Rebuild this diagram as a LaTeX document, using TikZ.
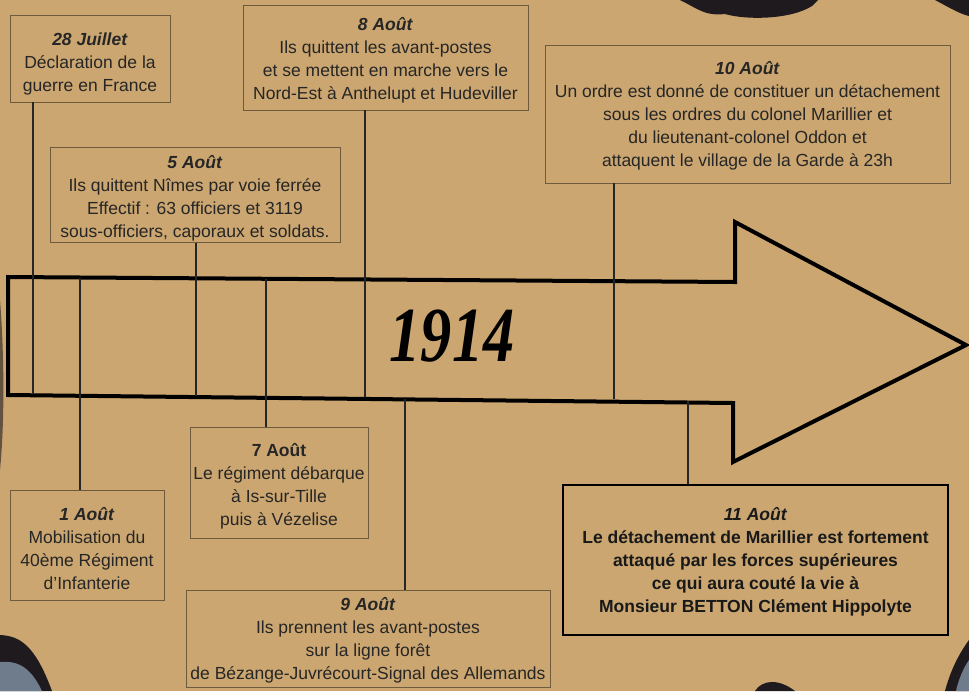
\documentclass[tikz,border=0pt]{standalone}
\usepackage{fontspec}
\setmainfont{Liberation Sans}
\newfontfamily\handfont{Liberation Serif}
\newcommand{\toprule}[1][19pt]{\rule{0pt}{#1}}
\begin{document}
\begin{tikzpicture}[x=1pt,y=-1pt,
  evbox/.style={draw=boxline, line width=0.8pt, align=center, inner sep=2pt,
    font=\fontsize{17.5}{23}\selectfont, text=black!85},
  bigbox/.style={draw=black, line width=2.6pt, align=center, inner sep=2pt,
    font=\bfseries\fontsize{17.5}{23}\selectfont, text=black!90},
  tick/.style={draw=black!85, line width=1.2pt},
  arrowline/.style={draw=black, line width=4pt, line join=miter}]
\definecolor{paper}{HTML}{CBA670}
\definecolor{boxline}{HTML}{6E5A3C}
\definecolor{burnt}{HTML}{1E1A1E}
\definecolor{slate}{HTML}{6F7C8C}
\useasboundingbox (0,0) rectangle (969,691);
\fill[paper] (0,0) rectangle (969,691);
% burnt edges
\fill[burnt] (680,0) .. controls (700,10) and (705,16) .. (725,14)
  .. controls (745,20) and (790,20) .. (812,6) -- (818,0) -- cycle;
\fill[burnt] (935,0) .. controls (950,8) and (960,14) .. (969,16) -- (969,0) -- cycle;
\fill[burnt] (0,635) .. controls (20,636) and (35,645) .. (52,691) -- (0,691) -- cycle;
\fill[slate] (0,662) .. controls (20,660) and (32,670) .. (42,691) -- (0,691) -- cycle;
\fill[burnt] (755,691) .. controls (762,680) and (778,678) .. (795,691) -- cycle;
\fill[burnt] (969,640) .. controls (958,655) and (950,672) .. (945,691) -- (969,691) -- cycle;
\fill[slate] (969,660) .. controls (962,670) and (958,682) .. (956,691) -- (969,691) -- cycle;
\fill[burnt!60!paper] (0,300) .. controls (4,350) and (5,420) .. (0,470) -- cycle;

% arrow
\draw[arrowline] (8,277) -- (735,282) -- (735,222) -- (966,345) -- (733,462)
  -- (733,403) -- (8,395) -- cycle;
\node[font=\handfont\itshape\bfseries\fontsize{78}{78}\selectfont, xscale=0.8] (year) at (452,336) {1914};

% coordinates on the arrow
\coordinate (c28) at (33,394);
\coordinate (c1) at (80,278);
\coordinate (c5) at (196,396);
\coordinate (c7) at (266,279);
\coordinate (c8) at (365,397);
\coordinate (c9) at (405,399);
\coordinate (c10) at (614,399);
\coordinate (c11) at (688,401);

% boxes
\node[evbox, minimum width=160pt, minimum height=87pt] (j28) at (90,58.5)
  {\toprule[23pt]\textbf{\textit{28 Juillet}}\\Déclaration de la\\guerre en France};
\node[evbox, minimum width=285pt, minimum height=105pt] (a8) at (385.5,57.5)
  {\toprule\textbf{\textit{8 Août}}\\Ils quittent les avant-postes\\et se mettent en marche vers le\\Nord-Est à Anthelupt et Hudeviller};
\node[evbox, minimum width=405pt, minimum height=138pt] (a10) at (747.5,114)
  {\toprule[16pt]\textbf{\textit{10 Août}}\\Un ordre est donné de constituer un détachement\\sous les ordres du colonel Marillier et\\du lieutenant-colonel Oddon et\\attaquent le village de la Garde à 23h};
\node[evbox, minimum width=290pt, minimum height=94pt] (a5) at (195,195)
  {\toprule\textbf{\textit{5 Août}}\\Ils quittent Nîmes par voie ferrée\\Effectif : 63 officiers et 3119\\sous-officiers, caporaux et soldats.};
\node[evbox, minimum width=178pt, minimum height=111pt] (a7) at (279,482.5)
  {\toprule[21pt]\textbf{7 Août}\\Le régiment débarque\\à Is-sur-Tille\\puis à Vézelise};
\node[evbox, minimum width=154pt, minimum height=110pt] (a1) at (87,545)
  {\toprule[20pt]\textbf{\textit{1 Août}}\\Mobilisation du\\40ème Régiment\\d’Infanterie};
\node[evbox, minimum width=364pt, minimum height=97pt] (a9) at (368,638.5)
  {\toprule[16pt]\textbf{\textit{9 Août}}\\Ils prennent les avant-postes\\sur la ligne forêt\\de Bézange-Juvrécourt-Signal des Allemands};
\node[bigbox, minimum width=385pt, minimum height=150pt] (a11) at (755.5,560)
  {\toprule[16pt]\textit{11 Août}\\Le détachement de Marillier est fortement\\attaqué par les forces supérieures\\ce qui aura couté la vie à\\Monsieur BETTON Clément Hippolyte};

% connectors
\draw[tick] (c28 |- j28.south) -- (c28);
\draw[tick] (c1) -- (c1 |- a1.north);
\draw[tick] (c5 |- a5.south) -- (c5);
\draw[tick] (c7) -- (c7 |- a7.north);
\draw[tick] (c8 |- a8.south) -- (c8);
\draw[tick] (c9) -- (c9 |- a9.north);
\draw[tick] (c10 |- a10.south) -- (c10);
\draw[tick] (c11) -- (c11 |- a11.north);
\end{tikzpicture}
\end{document}
